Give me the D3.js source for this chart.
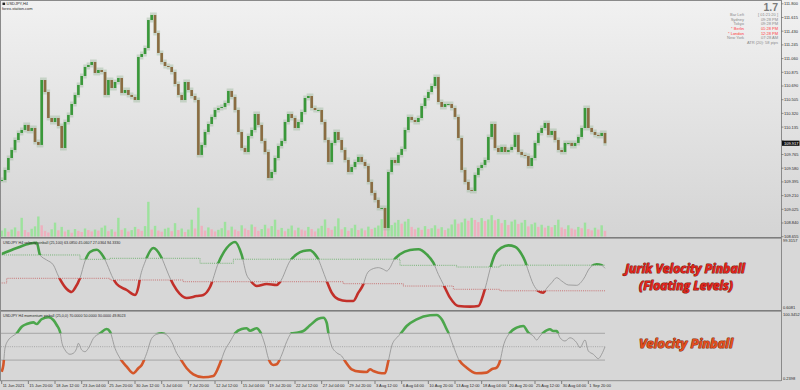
<!DOCTYPE html>
<html lang="en">
<head>
  <meta charset="UTF-8">
  <title>USDJPY H4 - Jurik Velocity Pinball</title>
  <script src="https://d3js.org/d3.v7.min.js"></script>
  <style>
    body { margin: 0; background: #d9d9d9; }
    svg { display: block; font-family: 'Liberation Sans', Arial, sans-serif; }
    .tiny { font-size: 4px; fill: #2a2a2a; }
    .axis-line { stroke: #8a8a8a; stroke-width: 1; }
  </style>
</head>
<body>
  <div id="chart"></div>
  <script>
    const W = 800, H = 390;

    // ---- data ----
    // closes, one candle every 2 H4 bars (bar 0 = 11 Jun 2021 00:00)
    const closes = [
      109.421, 109.556, 109.718, 109.826, 109.961, 110.056, 110.096, 110.164, 110.083, 110.123,
      109.934, 109.894, 110.771, 110.609, 110.258, 110.204, 110.258, 110.150, 109.853, 110.204,
      110.299, 110.447, 110.569, 110.704, 110.825, 110.947, 110.974, 111.014, 110.866, 110.906,
      110.879, 110.569, 110.771, 110.663, 110.744, 110.798, 110.596, 110.636, 110.569, 110.542,
      110.501, 111.082, 111.122, 111.203, 111.581, 111.649, 111.406, 111.136, 111.014, 110.960,
      110.947, 110.879, 110.717, 110.569, 110.501, 110.744, 110.636, 110.555, 110.501, 109.759,
      109.894, 110.069, 110.177, 110.272, 110.366, 110.393, 110.407, 110.461, 110.623, 110.542,
      110.366, 110.069, 109.853, 109.799, 110.015, 110.096, 110.312, 110.164, 109.948, 109.799,
      109.448, 109.529, 109.718, 109.880, 109.948, 110.204, 110.312, 110.258, 110.123, 110.204,
      110.339, 110.528, 110.555, 110.393, 110.366, 110.366, 110.204, 109.961, 109.664, 109.921,
      110.069, 109.961, 109.826, 109.691, 109.529, 109.596, 109.664, 109.732, 109.664, 109.610,
      109.394, 109.246, 109.151, 109.043, 109.043, 108.773, 109.529, 109.691, 109.651, 109.759,
      109.840, 110.096, 110.272, 110.231, 110.204, 110.258, 110.420, 110.528, 110.609, 110.690,
      110.812, 110.474, 110.407, 110.447, 110.447, 110.393, 110.272, 109.988, 109.556, 109.394,
      109.286, 109.273, 109.489, 109.583, 109.624, 109.691, 110.002, 110.177, 109.853, 109.799,
      109.867, 109.799, 109.826, 109.867, 110.029, 109.799, 109.759, 109.745, 109.610, 109.718,
      109.921, 110.056, 110.123, 110.191, 110.029, 110.083, 109.961, 109.826, 109.799, 109.921,
      109.921, 109.880, 109.921, 110.002, 110.123, 110.393, 110.123, 110.069, 110.029, 110.015,
      110.056, 109.917
    ];

    const volumes = [
      2200, 3100, 1800, 2600, 3400, 2000, 7000, 2400, 1600, 2900,
      3800, 7500, 4200, 2100, 1500, 2700, 5200, 2300, 3600, 1900,
      2500, 1400, 2800, 2100, 1700, 3000, 2400, 1900, 2600, 2200,
      3300, 4100, 2000, 2700, 1800, 7000, 2500, 3100, 1900, 2400,
      3600, 2800, 2100, 3900, 13000, 2600, 4000, 2200, 1800, 2900,
      3300, 2000, 5000, 2400, 3000, 1700, 2600, 6300, 3000, 10800,
      4000, 2200, 3400, 2700, 1900, 2500, 3100, 5500, 2300, 3700,
      2600, 2000, 4200, 3000, 2400, 4500, 3600, 2100, 2800, 4400,
      3000, 3900, 6300, 2500, 3200, 2000, 2900, 4100, 2300, 3300,
      2600, 2200, 3600, 2800, 1900, 3000, 4000, 6400, 3200, 2500,
      3800, 6800, 2700, 3500, 2100, 3100, 4400, 2400, 3000, 2300,
      3700, 2800, 3300, 4100, 6500, 3000, 3400, 4300, 5200, 6200,
      4800, 5600, 6600, 3600, 2700, 3300, 2500, 3900, 2800, 3100,
      4200, 2900, 3500, 2400, 3000, 4500, 6400, 4800, 5300, 6700,
      5900, 7000, 6200, 5400, 6900, 5800, 6400, 8000, 6100, 6600,
      5000, 6200, 4300, 5600, 6300, 4700, 5200, 6200, 3800, 4600,
      5200, 3600, 4400, 3300, 4000, 3500, 4300, 6300, 3400, 2800,
      4200, 3000, 2600, 3600, 3100, 5200, 2800, 2300, 3300, 2600,
      4200, 2100
    ];

    // Jurik velocity pinball (bar index, value)
    const velBars = [0, 9, 17, 21, 23, 27, 31, 34, 39, 42, 44, 47, 50, 53, 57, 61, 64, 66, 69, 75,
      80, 82, 83, 86, 91, 96, 99, 101, 105, 111, 117, 121, 125, 130, 135, 140, 144, 147, 149, 153,
      159, 165, 167, 173, 177, 181, 185, 188, 190, 192, 195, 198, 202, 207, 211, 214, 217, 219, 222, 226,
      229, 231, 233, 235, 239, 245, 250, 255, 259, 262, 265, 269, 274, 281, 286, 289, 291, 293, 296, 300,
      304, 308, 312, 314, 316, 319, 322, 325, 327, 330, 333, 336, 340, 345, 349, 353, 357, 360, 362];
    const velVals = [78.9, 87.3, 93.7, 94.8, 77.5, 70.4, 63.4, 47.8, 29.5, 25.3, 30.9, 45.0, 69.0, 81.7, 84.9, 75.1, 60.0, 48.5, 36.6, 28.1,
      21.1, 32.3, 45.0, 67.6, 87.3, 73.2, 56.3, 45.0, 28.1, 16.8, 19.6, 21.1, 32.3, 66.2, 87.3, 95.8, 77.5, 49.3, 42.2, 33.7,
      36.6, 35.2, 39.4, 69.0, 78.4, 83.1, 84.1, 78.4, 71.4, 59.6, 40.8, 24.3, 15.0, 12.6, 12.6, 24.3, 36.1, 50.2, 57.3, 59.6,
      57.3, 54.9, 59.6, 69.0, 78.4, 84.5, 85.5, 78.4, 66.6, 50.2, 36.1, 17.3, 5.5, 4.6, 5.5, 22.0, 38.4, 57.3, 78.4, 87.8,
      91.1, 89.2, 78.4, 69.0, 54.9, 36.1, 26.7, 24.3, 30.5, 38.4, 45.5, 40.8, 35.2, 34.7, 43.2, 59.6, 64.3, 62.9, 58.7];

    // floating levels (step changes)
    const upBars = [0, 47, 65, 119, 139, 239, 273, 299, 362];
    const upVals = [77.5, 71.4, 72.8, 65.8, 71.5, 62.9, 60.5, 63.1, 63.1];
    const dnBars = [0, 3, 65, 109, 205, 241, 271, 299, 362];
    const dnVals = [38.0, 44.6, 42.2, 39.8, 37.0, 33.7, 29.1, 27.0, 27.0];

    // momentum pinball (bar index, value)
    const momBars = [0, 1, 2, 4, 6, 9, 12, 15, 19, 21, 24, 28, 31, 33, 35, 36, 38, 41, 43, 45,
      46, 48, 50, 52, 55, 59, 63, 65, 68, 71, 75, 79, 82, 84, 87, 90, 93, 96, 99, 102,
      105, 107, 111, 115, 121, 127, 131, 134, 137, 140, 144, 147, 149, 153, 155, 158, 160, 163, 165, 168,
      171, 174, 177, 181, 185, 190, 193, 195, 196, 198, 201, 204, 206, 210, 215, 219, 221, 223, 226, 230,
      232, 234, 237, 239, 243, 249, 257, 261, 264, 267, 268, 271, 274, 279, 285, 291, 294, 297, 299, 301,
      305, 309, 313, 316, 319, 321, 323, 325, 329, 331, 333, 335, 338, 341, 345, 347, 350, 352, 355, 358,
      360, 362];
    const momVals = [12.7, 22.7, 48.1, 60.0, 64.9, 70.0, 79.9, 83.9, 86.4, 83.9, 91.3, 93.9, 89.9, 82.4, 72.4, 57.5, 45.1, 38.7, 40.2, 47.6,
      55.1, 45.1, 42.5, 47.6, 62.5, 70.0, 76.4, 72.4, 47.6, 32.7, 20.2, 10.3, 17.8, 22.7, 40.2, 62.5, 68.5, 70.0, 67.5, 57.5,
      40.2, 32.7, 17.8, 8.8, 4.3, 6.3, 25.2, 45.1, 57.5, 70.0, 76.4, 77.5, 73.9, 77.5, 72.4, 52.5, 32.7, 22.7, 23.7, 37.6,
      57.5, 70.0, 70.9, 73.4, 81.9, 91.8, 93.3, 85.8, 70.9, 51.0, 41.0, 36.1, 28.7, 16.3, 12.7, 12.2, 16.3, 13.7, 11.2, 10.3,
      28.7, 51.0, 63.4, 68.5, 80.9, 90.9, 96.9, 97.3, 90.9, 76.0, 70.9, 51.0, 32.1, 18.7, 10.3, 11.2, 16.3, 18.7, 28.7, 51.0,
      70.9, 78.4, 80.9, 70.9, 66.0, 60.0, 66.0, 70.9, 76.0, 73.4, 73.4, 63.4, 58.5, 63.4, 56.0, 48.5, 60.0, 43.6, 38.7, 32.1,
      38.7, 49.8];
    const momLevels = [70, 50, 30];

    const priceTicks = [111.800, 111.615, 111.430, 111.245, 111.060, 110.875, 110.690, 110.505, 110.320,
      110.135, 109.950, 109.765, 109.580, 109.395, 109.210, 109.025, 108.840, 108.655];
    const timeLabels = ["11 Jun 2021", "15 Jun 20:00", "18 Jun 12:00", "23 Jun 04:00", "25 Jun 20:00",
      "30 Jun 12:00", "5 Jul 04:00", "7 Jul 20:00", "12 Jul 12:00", "15 Jul 04:00", "19 Jul 20:00",
      "22 Jul 12:00", "27 Jul 04:00", "29 Jul 20:00", "3 Aug 12:00", "6 Aug 04:00", "10 Aug 20:00",
      "13 Aug 12:00", "18 Aug 04:00", "20 Aug 20:00", "25 Aug 12:00", "30 Aug 04:00", "1 Sep 20:00"];
    const barsPerTimeTick = 16;

    const infoLabels = ["Bar Left", "Sydney", "Tokyo", "* Berlin", "* London", "New York"];
    const infoValues = ["[ 01:21:20 ]", "09:28 PM", "09:28 PM", "01:28 PM", "12:28 PM", "07:28 AM"];
    const infoHot = [false, false, false, true, true, false];

    // ---- layout ----
    const plotRight = 781;
    const main = { top: 0, bottom: 237 };
    const p2 = { top: 239, bottom: 310 };
    const p3 = { top: 312, bottom: 381 };

    const x = d3.scaleLinear().domain([0, 362]).range([1.7, 605]);
    const yPrice = d3.scaleLinear().domain([108.655, 111.800]).range([236.7, 3.8]);
    const yVol = d3.scaleLinear().domain([0, 15000]).range([236.5, 196.5]);
    const yVel = d3.scaleLinear().domain([0.6081, 99.3157]).range([309.5, 239.5]);
    const yMom = d3.scaleLinear().domain([0.2398, 100.3452]).range([380, 313]);

    const svg = d3.select("#chart").append("svg")
      .attr("width", W).attr("height", H);
    const defs = svg.append("defs");

    const grad = defs.append("linearGradient").attr("id", "mainBg")
      .attr("x1", 0).attr("y1", 0).attr("x2", 0).attr("y2", 1);
    grad.append("stop").attr("offset", 0).attr("stop-color", "#f1f1f1");
    grad.append("stop").attr("offset", 1).attr("stop-color", "#d4d4d4");

    function clipRect(id, y0, y1) {
      defs.append("clipPath").attr("id", id).append("rect")
        .attr("x", 1).attr("y", y0).attr("width", plotRight - 1).attr("height", y1 - y0);
    }
    clipRect("clipMain", main.top, main.bottom);
    clipRect("clipP2", p2.top, p2.bottom);
    clipRect("clipP3", p3.top, p3.bottom);

    // backgrounds
    svg.append("rect").attr("width", W).attr("height", H).attr("fill", "#d8d8d8");
    svg.append("rect").attr("width", W).attr("height", main.bottom).attr("fill", "url(#mainBg)");
    svg.append("rect").attr("x", 0).attr("y", p2.top).attr("width", plotRight).attr("height", p2.bottom - p2.top).attr("fill", "#d7d7d7");
    svg.append("rect").attr("x", 0).attr("y", p3.top).attr("width", plotRight).attr("height", p3.bottom - p3.top).attr("fill", "#d7d7d7");

    // ---- main price panel ----
    const gMain = svg.append("g").attr("clip-path", "url(#clipMain)");

    const candles = closes.map((c, i) => ({ bar: i * 2, o: i ? closes[i - 1] : c, c: c }));

    // volumes (green when higher than the previous bar)
    gMain.append("g").selectAll("rect").data(volumes).join("rect")
      .attr("x", (d, i) => x(i * 2) - 1.2)
      .attr("width", 2.4)
      .attr("y", d => yVol(d))
      .attr("height", d => yVol(0) - yVol(d))
      .attr("fill", (d, i) => (i && d < volumes[i - 1]) ? "#f2a9ba" : "#93e493")
      .attr("opacity", 0.85);

    // soft wick haze
    gMain.append("g").selectAll("rect").data(candles).join("rect")
      .attr("x", d => x(d.bar) - 1.7)
      .attr("width", 3.4)
      .attr("y", d => Math.min(yPrice(d.o), yPrice(d.c)) - 2.5)
      .attr("height", d => Math.abs(yPrice(d.o) - yPrice(d.c)) + 5)
      .attr("fill", "#9dbb9d")
      .attr("opacity", 0.45);

    // bodies
    gMain.append("g").selectAll("rect").data(candles).join("rect")
      .attr("x", d => x(d.bar) - 1.3)
      .attr("width", 2.6)
      .attr("y", d => Math.min(yPrice(d.o), yPrice(d.c)))
      .attr("height", d => Math.max(1, Math.abs(yPrice(d.o) - yPrice(d.c))))
      .attr("fill", d => d.c >= d.o ? "#3a983a" : "#8a6c42");

    // chart title / watermark
    svg.append("rect").attr("x", 2.5).attr("y", 2.6).attr("width", 2.6).attr("height", 2.4).attr("fill", "#222");
    svg.append("text").attr("class", "tiny").attr("x", 6.5).attr("y", 5.4).text("USDJPY,H4");
    svg.append("text").attr("class", "tiny").attr("x", 2).attr("y", 10).text("forex-station.com");

    // info block top right
    svg.append("text").attr("x", 778).attr("y", 11.4).attr("text-anchor", "end")
      .attr("font-size", 10.5).attr("font-weight", "bold").attr("fill", "#7a7a7a").text("1.7");
    const infoRows = [16.2, 20.8, 25.4, 30, 34.6, 39.2];
    infoLabels.forEach((t, i) => {
      svg.append("text").attr("class", "tiny").attr("x", 744).attr("y", infoRows[i])
        .attr("text-anchor", "end").style("fill", infoHot[i] ? "#ff3b3b" : "#8a8a8a").text(t);
      svg.append("text").attr("class", "tiny").attr("x", 778).attr("y", infoRows[i])
        .attr("text-anchor", "end").style("fill", infoHot[i] ? "#ff3b3b" : "#8a8a8a").text(infoValues[i]);
    });
    svg.append("text").attr("class", "tiny").attr("x", 778).attr("y", 44)
      .attr("text-anchor", "end").style("fill", "#8a8a8a").text("ATR (20): 58 pips");

    // ---- panel 2: Jurik velocity pinball ----
    const g2 = svg.append("g").attr("clip-path", "url(#clipP2)");
    const velPts = velBars.map((b, i) => [b, velVals[i]]);
    const velLine = d3.line().x(d => x(d[0])).y(d => yVel(d[1])).curve(d3.curveMonotoneX);

    function stepLine(bars, vals, scale) {
      return d3.line().x(d => x(d[0])).y(d => scale(d[1])).curve(d3.curveStepAfter)(bars.map((b, i) => [b, vals[i]]));
    }
    g2.append("path").attr("d", stepLine(upBars, upVals, yVel))
      .attr("fill", "none").attr("stroke", "#5aa95a").attr("stroke-width", 0.8).attr("stroke-dasharray", "1,1.1");
    g2.append("path").attr("d", stepLine(dnBars, dnVals, yVel))
      .attr("fill", "none").attr("stroke", "#c45a5a").attr("stroke-width", 0.8).attr("stroke-dasharray", "1,1.1");

    // zones above the upper level / below the lower level
    defs.append("clipPath").attr("id", "velUp").append("path")
      .attr("d", d3.area().x(d => x(d[0])).y0(p2.top).y1(d => yVel(d[1])).curve(d3.curveStepAfter)(upBars.map((b, i) => [b, upVals[i]])));
    defs.append("clipPath").attr("id", "velDn").append("path")
      .attr("d", d3.area().x(d => x(d[0])).y0(p2.bottom).y1(d => yVel(d[1])).curve(d3.curveStepAfter)(dnBars.map((b, i) => [b, dnVals[i]])));

    g2.append("path").attr("d", velLine(velPts)).attr("fill", "none").attr("stroke", "#8f8f8f").attr("stroke-width", 0.8);
    g2.append("g").attr("clip-path", "url(#velUp)").append("path").attr("d", velLine(velPts))
      .attr("fill", "none").attr("stroke", "#45a045").attr("stroke-width", 2.6);
    g2.append("g").attr("clip-path", "url(#velDn)").append("path").attr("d", velLine(velPts))
      .attr("fill", "none").attr("stroke", "#c2302a").attr("stroke-width", 2.6);

    svg.append("text").attr("class", "tiny").attr("x", 3).attr("y", 244).style("font-size", "3.7px")
      .text("USDJPY H4 velocity pinball (25,100) 63.0850 45.0607 27.0364 94.3330");

    // ---- panel 3: momentum pinball ----
    const g3 = svg.append("g").attr("clip-path", "url(#clipP3)");
    const momPts = momBars.map((b, i) => [b, momVals[i]]);
    const momLine = d3.line().x(d => x(d[0])).y(d => yMom(d[1])).curve(d3.curveMonotoneX);

    g3.selectAll("line.lvl").data(momLevels).join("line")
      .attr("class", "lvl")
      .attr("x1", 1).attr("x2", x(362))
      .attr("y1", d => yMom(d)).attr("y2", d => yMom(d))
      .attr("stroke", "#9a9a9a").attr("stroke-width", 0.8)
      .attr("stroke-dasharray", d => d === 50 ? "1,1.2" : null);

    clipRect("momUp", p3.top, yMom(70));
    clipRect("momDn", yMom(30), p3.bottom);

    g3.append("path").attr("d", momLine(momPts)).attr("fill", "none").attr("stroke", "#8f8f8f").attr("stroke-width", 0.8);
    g3.append("g").attr("clip-path", "url(#momUp)").append("path").attr("d", momLine(momPts))
      .attr("fill", "none").attr("stroke", "#4ca64c").attr("stroke-width", 2.6);
    g3.append("g").attr("clip-path", "url(#momDn)").append("path").attr("d", momLine(momPts))
      .attr("fill", "none").attr("stroke", "#d4572a").attr("stroke-width", 2.6);

    svg.append("text").attr("class", "tiny").attr("x", 3).attr("y", 316.6).style("font-size", "3.7px")
      .text("USDJPY H4 momentum pinball (25,0,0) 70.0000 50.0000 30.0000 49.8023");

    // ---- big captions (outlined) ----
    function caption(txt, cx, cy, len, fill, edge) {
      svg.append("text").attr("x", cx).attr("y", cy).attr("text-anchor", "middle")
        .attr("font-family", "'Open Sans', sans-serif").attr("font-size", 12).attr("font-weight", "bold").attr("font-style", "italic")
        .attr("textLength", len).attr("lengthAdjust", "spacingAndGlyphs")
        .attr("fill", fill).attr("stroke", edge).attr("stroke-width", 1.1)
        .attr("stroke-linejoin", "round").style("paint-order", "stroke").text(txt);
    }
    caption("Jurik Velocity Pinball", 685, 272.5, 120, "#e3241c", "#7a1c14");
    caption("(Floating Levels)", 686, 289.5, 94, "#e3241c", "#7a1c14");
    caption("Velocity Pinball", 686, 348, 94, "#e4501e", "#84300f");

    // ---- frames ----
    svg.append("rect").attr("x", 0).attr("y", main.bottom).attr("width", plotRight).attr("height", 1.6).attr("fill", "#7d7d7d");
    svg.append("rect").attr("x", 0).attr("y", p2.bottom).attr("width", plotRight).attr("height", 1.6).attr("fill", "#7d7d7d");
    svg.append("line").attr("x1", 0).attr("x2", plotRight).attr("y1", p3.bottom - 0.3).attr("y2", p3.bottom - 0.3).attr("class", "axis-line");
    svg.append("line").attr("x1", 0.5).attr("x2", 0.5).attr("y1", 0).attr("y2", p3.bottom).attr("class", "axis-line");
    svg.append("line").attr("x1", 0).attr("x2", plotRight).attr("y1", 0.5).attr("y2", 0.5).attr("class", "axis-line");
    svg.append("line").attr("x1", plotRight + 0.5).attr("x2", plotRight + 0.5).attr("y1", 0).attr("y2", p3.bottom).attr("class", "axis-line");

    // ---- right price axis ----
    const fmt3 = d3.format(".3f");
    const gAxis = svg.append("g");
    const last = closes[closes.length - 1];
    priceTicks.forEach(p => {
      gAxis.append("line").attr("x1", plotRight + 0.5).attr("x2", plotRight + 2.5)
        .attr("y1", yPrice(p)).attr("y2", yPrice(p)).attr("stroke", "#555").attr("stroke-width", 0.6);
      // the label hidden under the current-price box is not shown
      if (Math.abs(yPrice(p) - yPrice(last)) > 5) {
        gAxis.append("text").attr("class", "tiny").attr("x", 784).attr("y", yPrice(p) + 1.4).text(fmt3(p));
      }
    });
    gAxis.append("rect").attr("x", 782).attr("y", yPrice(last) - 2.6).attr("width", 17.5).attr("height", 5.2).attr("fill", "#111");
    gAxis.append("text").attr("class", "tiny").attr("x", 784).attr("y", yPrice(last) + 1.4).style("fill", "#fff").text(fmt3(last));

    const sideLabels = [["99.3157", 242], ["0.6081", 308.6], ["100.3452", 315.7], ["0.2398", 379.7]];
    sideLabels.forEach(d => gAxis.append("text").attr("class", "tiny").attr("x", 783).attr("y", d[1]).text(d[0]));

    // ---- time axis ----
    const gTime = svg.append("g");
    timeLabels.forEach((t, i) => {
      const xx = x(i * barsPerTimeTick);
      gTime.append("line").attr("x1", xx).attr("x2", xx).attr("y1", p3.bottom).attr("y2", p3.bottom + 3)
        .attr("stroke", "#444").attr("stroke-width", 0.6);
      gTime.append("text").attr("class", "tiny").attr("x", xx + 1).attr("y", 386.6).text(t);
    });
  </script>
</body>
</html>
